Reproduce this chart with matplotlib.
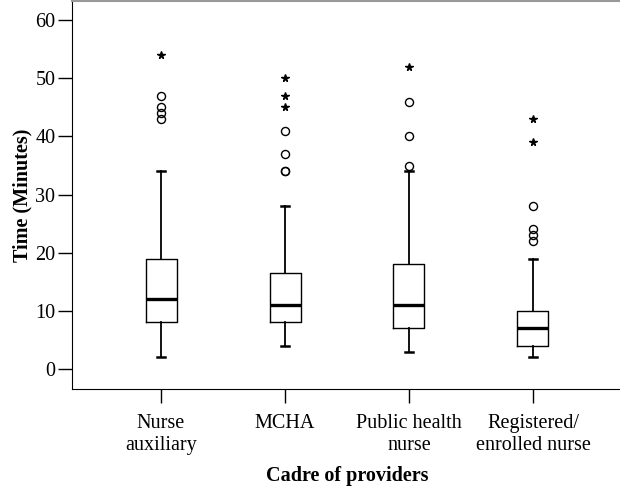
import matplotlib
matplotlib.use("Agg")
import matplotlib.pyplot as plt

# values (minutes)
categories = ["Nurse\nauxiliary", "MCHA", "Public health\nnurse", "Registered/\nenrolled nurse"]
whisker_low = [2, 4, 3, 2]
q1 = [8, 8, 7, 4]
medians = [12, 11, 11, 7]
q3 = [19, 16.5, 18, 10]
whisker_high = [34, 28, 34, 19]
outliers = [[47, 45, 44, 43], [41, 37, 34, 34], [46, 40, 35], [28, 24, 23, 22]]
extremes = [[54], [50, 47, 45], [52], [43, 39]]

plt.rcParams['font.family'] = ['Liberation Serif', 'DejaVu Serif']

fig = plt.figure(figsize=(6.2, 5), dpi=100)
ax = fig.add_axes([72 / 620, 111 / 500, 550 / 620, 388 / 500])

positions = list(range(1, len(categories) + 1))
stats = []
for i in range(len(categories)):
    stats.append({
        'med': medians[i], 'q1': q1[i], 'q3': q3[i],
        'whislo': whisker_low[i], 'whishi': whisker_high[i],
        'fliers': outliers[i],
    })

ax.bxp(stats, positions=positions, widths=0.25, capwidths=0.065,
       showfliers=True,
       boxprops=dict(color='black', linewidth=1.0),
       whiskerprops=dict(color='black', linewidth=1.3),
       capprops=dict(color='black', linewidth=1.8),
       medianprops=dict(color='black', linewidth=2.4),
       flierprops=dict(marker='o', markerfacecolor='none', markeredgecolor='black',
                       markersize=5.8, markeredgewidth=1.0, linestyle='none'))

# extreme values drawn as stars, as in SPSS
for pos, vals in zip(positions, extremes):
    ax.plot([pos] * len(vals), vals, linestyle='none', marker='*',
            color='black', markersize=5.5)

ax.set_xlim(0.282, 4.718)
ax.set_ylim(-3.44, 63.3)
ax.set_yticks(range(0, 61, 10))
ax.set_xticks(positions)
ax.set_xticklabels(categories, linespacing=1.2)

ax.tick_params(axis='both', direction='out', length=10, width=1, labelsize=14.5)
ax.tick_params(axis='y', pad=2)
ax.tick_params(axis='x', pad=8)

ax.spines['right'].set_visible(False)
ax.spines['top'].set_color('#999999')
ax.spines['top'].set_linewidth(1.5)

ax.set_xlabel('Cadre of providers', fontsize=14.5, fontweight='bold', labelpad=8)
ax.set_ylabel('Time (Minutes)', fontsize=14.5, fontweight='bold', labelpad=2)

fig.savefig('out.png', dpi=100)
